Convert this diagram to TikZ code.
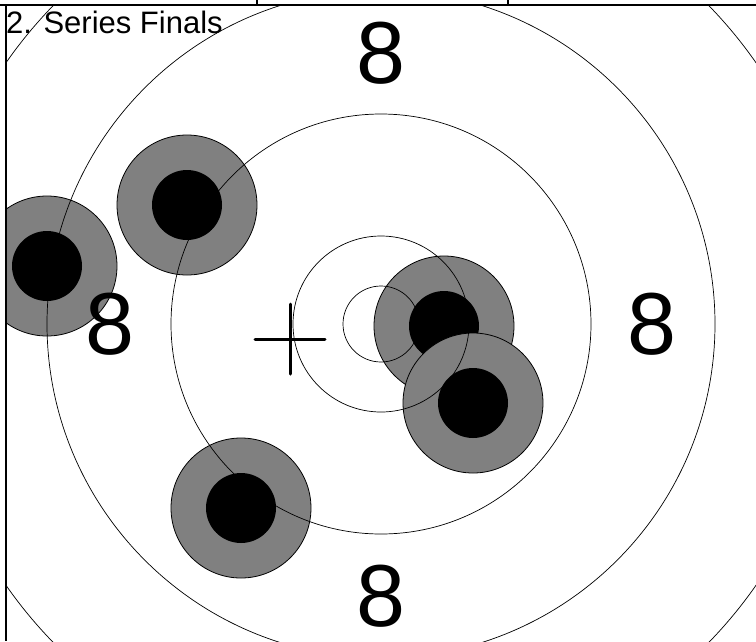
\documentclass[tikz,border=0pt]{standalone}
\usepackage{fontspec}
\setmainfont{Liberation Sans}
\usetikzlibrary{positioning}

\begin{document}
\begin{tikzpicture}[x=1pt, y=-1pt,
            ring/.style={draw=black, line width=0.7pt},
            shot/.style={circle, draw=black, line width=0.8pt, fill=gray, minimum size=140pt, inner sep=0pt},
            hole/.style={circle, fill=black, minimum size=70pt, inner sep=0pt},
            score/.style={font=\fontsize{88}{88}\selectfont, inner sep=0pt},
            title/.style={font=\fontsize{31}{31}\selectfont, inner sep=0pt, anchor=base west},
            frame/.style={draw=black, line width=1.6pt}]
            \useasboundingbox (0,0) rectangle (756,641);
            \coordinate (centre) at (381,324);
            \coordinate (mean) at (290,339);

            \begin{scope}
                \clip (6,5) rectangle (756,641);
                % Shots
                \foreach \n/\x/\y in {1/47/266, 2/187/205, 3/241/508, 4/444/326, 5/473/403} {
                    \node (shot\n) [shot] at (\x,\y) {};
                    \node (hole\n) [hole] at (\x,\y) {};
                }
                % Rings
                \foreach \r in {38,88,210,334,457}
                    \draw [ring] (centre) circle [radius=\r pt];
            \end{scope}

            % Labels
            \node (scoreN) [score] at (381,53) {8};
            \node (scoreW) [score] at (110,324) {8};
            \node (scoreE) [score] at (652,324) {8};
            \node (scoreS) [score] at (381,596) {8};
            \node (title) [title] at (6,33) {2. Series Finals};

            % Mean point
            \draw [line width=3pt, line cap=round] ([xshift=-35pt]mean) -- ([xshift=35pt]mean);
            \draw [line width=3pt, line cap=round] ([yshift=35pt]mean) -- ([yshift=-35pt]mean);

            % Frame
            \draw [frame, line width=2pt] (0,5) -- (756,5);
            \draw [frame] (6,5) -- (6,641);
            \draw [frame] (257,0) -- (257,5);
            \draw [frame] (508,0) -- (508,5);
        \end{tikzpicture}
\end{document}
